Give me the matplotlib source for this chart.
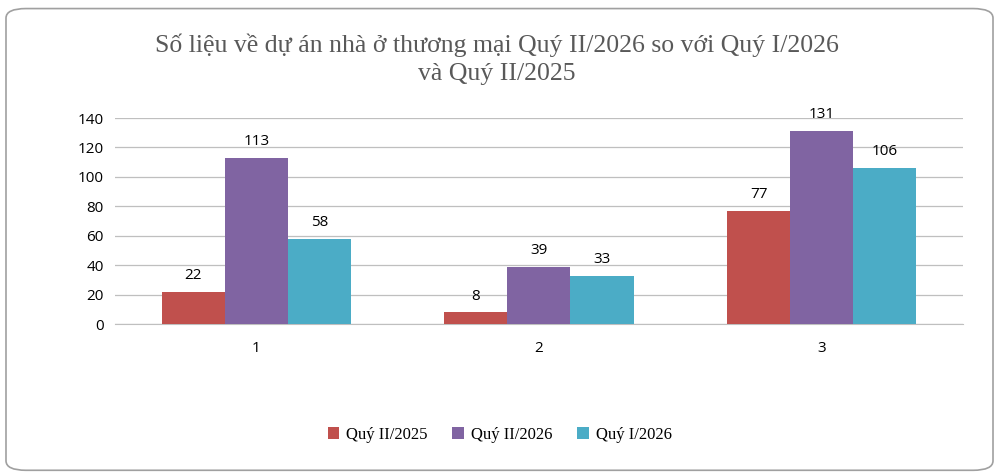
import matplotlib
matplotlib.use("Agg")
import matplotlib.pyplot as plt
from matplotlib.patches import FancyBboxPatch
import numpy as np

categories = ["1", "2", "3"]
series_names = ["Quý II/2025", "Quý II/2026", "Quý I/2026"]
q2_2025 = [22, 8, 77]
q2_2026 = [113, 39, 131]
q1_2026 = [58, 33, 106]
colors = ["#C0504D", "#8064A2", "#4BACC6"]
yticks = [0, 20, 40, 60, 80, 100, 120, 140]

fig = plt.figure(figsize=(9.99, 4.76), dpi=100)
fig.patches.append(FancyBboxPatch((0.006, 0.012), 0.988, 0.97, boxstyle="round,pad=0,rounding_size=0.02",
                                  transform=fig.transFigure, fill=False, edgecolor="#A0A0A0", linewidth=1.2))
ax = fig.add_axes([0.115, 0.319, 0.849, 0.433])
x = np.arange(len(categories))
w = 0.223
for i, (vals, c, n) in enumerate(zip([q2_2025, q2_2026, q1_2026], colors, series_names)):
    bars = ax.bar(x + (i - 1) * w, vals, w, color=c, label=n, zorder=3)
    for b, v in zip(bars, vals):
        ax.text(b.get_x() + b.get_width() / 2, v + 6, str(v), ha="center", va="bottom",
                fontsize=11, family="Open Sans", color="#000000")
ax.set_xlim(-0.5, 2.5)
ax.set_ylim(0, 140)
ax.set_yticks(yticks)
ax.set_xticks(x)
ax.set_xticklabels(categories)
ax.grid(axis="y", color="#BFBFBF", linewidth=0.9, zorder=0)
for s in ["top", "right", "left"]:
    ax.spines[s].set_visible(False)
ax.spines["bottom"].set_color("#BFBFBF")
ax.tick_params(axis="both", length=0, labelsize=11, pad=8)
for lbl in ax.get_xticklabels() + ax.get_yticklabels():
    lbl.set_family("Open Sans")
ax.tick_params(axis="x", pad=12)
fig.text(0.497, 0.876, "Số liệu về dự án nhà ở thương mại Quý II/2026 so với Quý I/2026\nvà Quý II/2025",
         ha="center", va="center", fontsize=18.5, family="Liberation Serif", color="#595959", linespacing=1.35)
fig.legend(loc="center", bbox_to_anchor=(0.5, 0.086), ncol=3, frameon=False, handlelength=0.7,
           handleheight=0.7, columnspacing=1.5, handletextpad=0.4,
           prop={"family": "Liberation Serif", "size": 12})
fig.savefig("out.png", dpi=100)
